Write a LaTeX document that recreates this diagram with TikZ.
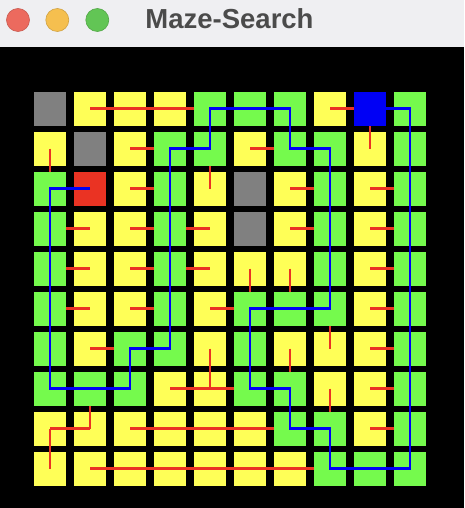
\documentclass[tikz,border=0pt]{standalone}
\usepackage{fontspec}
\setmainfont{Liberation Sans}
\definecolor{titlebg}{RGB}{239,239,242}
\definecolor{titletext}{RGB}{75,75,75}
\definecolor{tlred}{RGB}{236,106,94}
\definecolor{tlyellow}{RGB}{245,191,79}
\definecolor{tlgreen}{RGB}{98,197,85}
\definecolor{cellyellow}{RGB}{255,255,87}
\definecolor{cellgreen}{RGB}{117,250,77}
\definecolor{cellgray}{RGB}{128,128,128}
\definecolor{cellred}{RGB}{234,51,35}
\definecolor{cellblue}{RGB}{0,0,245}
\definecolor{linered}{RGB}{234,51,35}
\definecolor{lineblue}{RGB}{0,0,245}
\begin{document}
\begin{tikzpicture}[x=1pt,y=-1pt,
  cell/.style={inner sep=0pt, outer sep=0pt, minimum width=32pt, minimum height=34pt, draw=none},
  pY/.style={fill=cellyellow}, pW/.style={fill=cellgray}, pG/.style={fill=cellgreen},
  pS/.style={fill=cellred}, pE/.style={fill=cellblue},
  qY/.style={}, qW/.style={}, qG/.style={fill=cellgreen},
  qS/.style={fill=cellred}, qE/.style={fill=cellblue},
  tree/.style={draw=linered, line width=2.3pt},
  route/.style={draw=lineblue, line width=2.3pt, line join=miter},
  light/.style={circle, minimum size=23pt, inner sep=0pt, line width=0.6pt}]
\useasboundingbox (0,0) rectangle (464,508);
\fill[titlebg] (0,0) rectangle (464,47);
\fill[black] (0,47) rectangle (464,508);
% title bar
\node[light, fill=tlred, draw=tlred!85!black] (close) at (18,20) {};
\node[light, fill=tlyellow, draw=tlyellow!85!black] (mini) at (57.3,20) {};
\node[light, fill=tlgreen, draw=tlgreen!85!black] (zoom) at (97.3,20) {};
\node[anchor=base, inner sep=0pt, text=titletext, font=\fontsize{27.5}{30}\selectfont\bfseries] (title) at (229.5,28.5) {Maze-Search};
% cell centre coordinates
\foreach \i in {0,...,9}{\foreach \j in {0,...,9}{\coordinate (p-\i-\j) at ({50+40*\i},{108.5+40*\j});}}
\def\mazerows{{W,Y,Y,Y,G,G,G,Y,E,G},{Y,W,Y,G,G,Y,G,G,Y,G},{G,S,Y,G,Y,W,Y,G,Y,G},{G,Y,Y,G,Y,W,Y,G,Y,G},{G,Y,Y,G,Y,Y,Y,G,Y,G},{G,Y,Y,G,Y,G,G,G,Y,G},{G,Y,G,G,Y,G,Y,Y,Y,G},{G,G,G,Y,Y,G,G,Y,Y,G},{Y,Y,Y,Y,Y,Y,G,G,Y,G},{Y,Y,Y,Y,Y,Y,Y,G,G,G}}
% pass 1: all cells
\foreach \r [count=\j from 0] in \mazerows {
  \foreach \c [count=\i from 0] in \r {
    \node[cell, p\c] (c-\i-\j) at ({50+40*\i},{109+40*\j}) {};
  }}
% search tree (red)
\foreach \a/\b in {1-0/4-0, 7-0/8-0, 8-0/8-1, 0-1/0-2, 2-1/3-1, 5-1/6-1, 4-1/4-2,
  2-2/3-2, 6-2/7-2, 8-2/9-2, 0-3/1-3, 2-3/3-3, 3-3/4-3, 6-3/7-3, 8-3/9-3,
  0-4/1-4, 2-4/3-4, 3-4/4-4, 5-4/5-5, 6-4/6-5, 8-4/9-4, 0-5/1-5, 2-5/3-5,
  4-5/5-5, 8-5/9-5, 1-6/2-6, 4-6/4-7, 6-6/6-7, 7-5/7-6, 8-6/9-6, 3-7/5-7,
  7-7/7-8, 8-7/9-7, 1-7/1-8, 0-8/1-8, 0-8/0-9, 2-8/6-8, 8-8/9-8, 1-9/7-9}
  {\draw[tree] (p-\a) -- (p-\b);}
% pass 2: path / start / goal cells on top
\foreach \r [count=\j from 0] in \mazerows {
  \foreach \c [count=\i from 0] in \r {
    \node[cell, q\c] (g-\i-\j) at ({50+40*\i},{109+40*\j}) {};
  }}
% solution route (blue)
\draw[route] (p-8-0) -- (p-9-0) -- (p-9-9) -- (p-7-9) -- (p-7-8) -- (p-6-8)
  -- (p-6-7) -- (p-5-7) -- (p-5-5) -- (p-7-5) -- (p-7-1) -- (p-6-1) -- (p-6-0)
  -- (p-4-0) -- (p-4-1) -- (p-3-1) -- (p-3-6) -- (p-2-6) -- (p-2-7) -- (p-0-7)
  -- (p-0-2) -- (p-1-2);
\end{tikzpicture}
\end{document}
